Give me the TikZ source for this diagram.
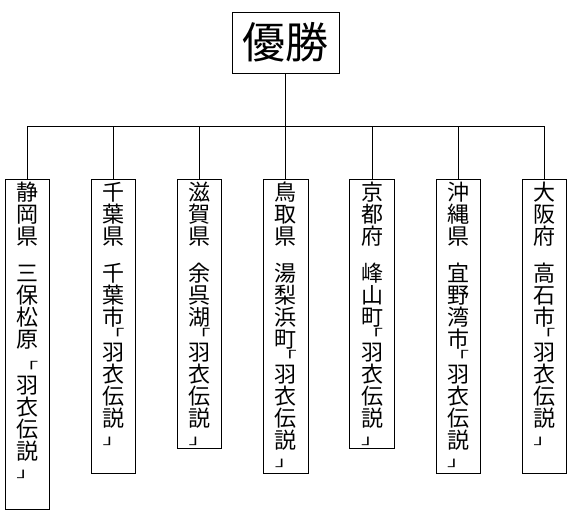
\documentclass[tikz,border=0pt]{standalone}
\usepackage{fontspec}
\usepackage{graphicx}
\newfontfamily\cjk{Noto Sans CJK JP}
\newcommand\colfont{\cjk\fontsize{22}{22}\selectfont\lineskiplimit=-100pt\lineskip=0pt}
\newcommand\obr{\smash{\raisebox{8pt}{\scalebox{1}[0.6]{「}}}}
\newcommand\cbr{\smash{\raisebox{4pt}{\scalebox{1}[0.6]{」}}}}
\begin{document}
\begin{tikzpicture}[x=1pt,y=-1pt,
  wire/.style={line width=0.9pt},
  boxst/.style={draw, line width=0.9pt, minimum width=44.5pt, inner sep=0pt, anchor=north},
  coltext/.style={align=center, inner sep=0pt, anchor=north, font=\colfont}]
\useasboundingbox (0,0) rectangle (567,510);
\fill[white] (0,0) rectangle (567,510);
\node[draw, line width=0.9pt, minimum width=106.5pt, minimum height=61pt, inner sep=0pt,
  font=\cjk\fontsize{43}{43}\selectfont] (top) at (285.8,42.5) {優勝};
\coordinate (bus) at (285.8,126.5);
\node[boxst, minimum height=330pt]   (b1) at (27.3,179) {};
\node[boxst, minimum height=293.5pt] (b2) at (113.5,179) {};
\node[boxst, minimum height=268.5pt] (b3) at (199.6,179) {};
\node[boxst, minimum height=293.5pt] (b4) at (285.8,179) {};
\node[boxst, minimum height=268.5pt] (b5) at (372.0,179) {};
\node[boxst, minimum height=293.5pt] (b6) at (458.2,179) {};
\node[boxst, minimum height=293.5pt] (b7) at (544.3,179) {};
\node[coltext] (t1) at (27.3,182) {静\\岡\\県\\[15pt]三\\保\\松\\原\\[11pt]\obr\\[-9pt]羽\\衣\\伝\\説\\\cbr};
\node[coltext] (t2) at (113.5,182) {千\\葉\\県\\[15pt]千\\葉\\市\\\obr\\[-9pt]羽\\衣\\伝\\説\\\cbr};
\node[coltext] (t3) at (199.6,182) {滋\\賀\\県\\[15pt]余\\呉\\湖\\\obr\\[-9pt]羽\\衣\\伝\\説\\\cbr};
\node[coltext] (t4) at (285.8,182) {鳥\\取\\県\\[15pt]湯\\梨\\浜\\町\\\obr\\[-9pt]羽\\衣\\伝\\説\\\cbr};
\node[coltext] (t5) at (372.0,182) {京\\都\\府\\[15pt]峰\\山\\町\\\obr\\[-9pt]羽\\衣\\伝\\説\\\cbr};
\node[coltext] (t6) at (458.2,182) {沖\\縄\\県\\[15pt]宜\\野\\湾\\市\\\obr\\[-9pt]羽\\衣\\伝\\説\\\cbr};
\node[coltext] (t7) at (544.3,182) {大\\阪\\府\\[15pt]高\\石\\市\\\obr\\[-9pt]羽\\衣\\伝\\説\\\cbr};
\draw[wire] (top.south) -- (bus);
\foreach \i in {1,...,7} { \draw[wire] (b\i.north) |- (bus); }
\end{tikzpicture}
\end{document}
